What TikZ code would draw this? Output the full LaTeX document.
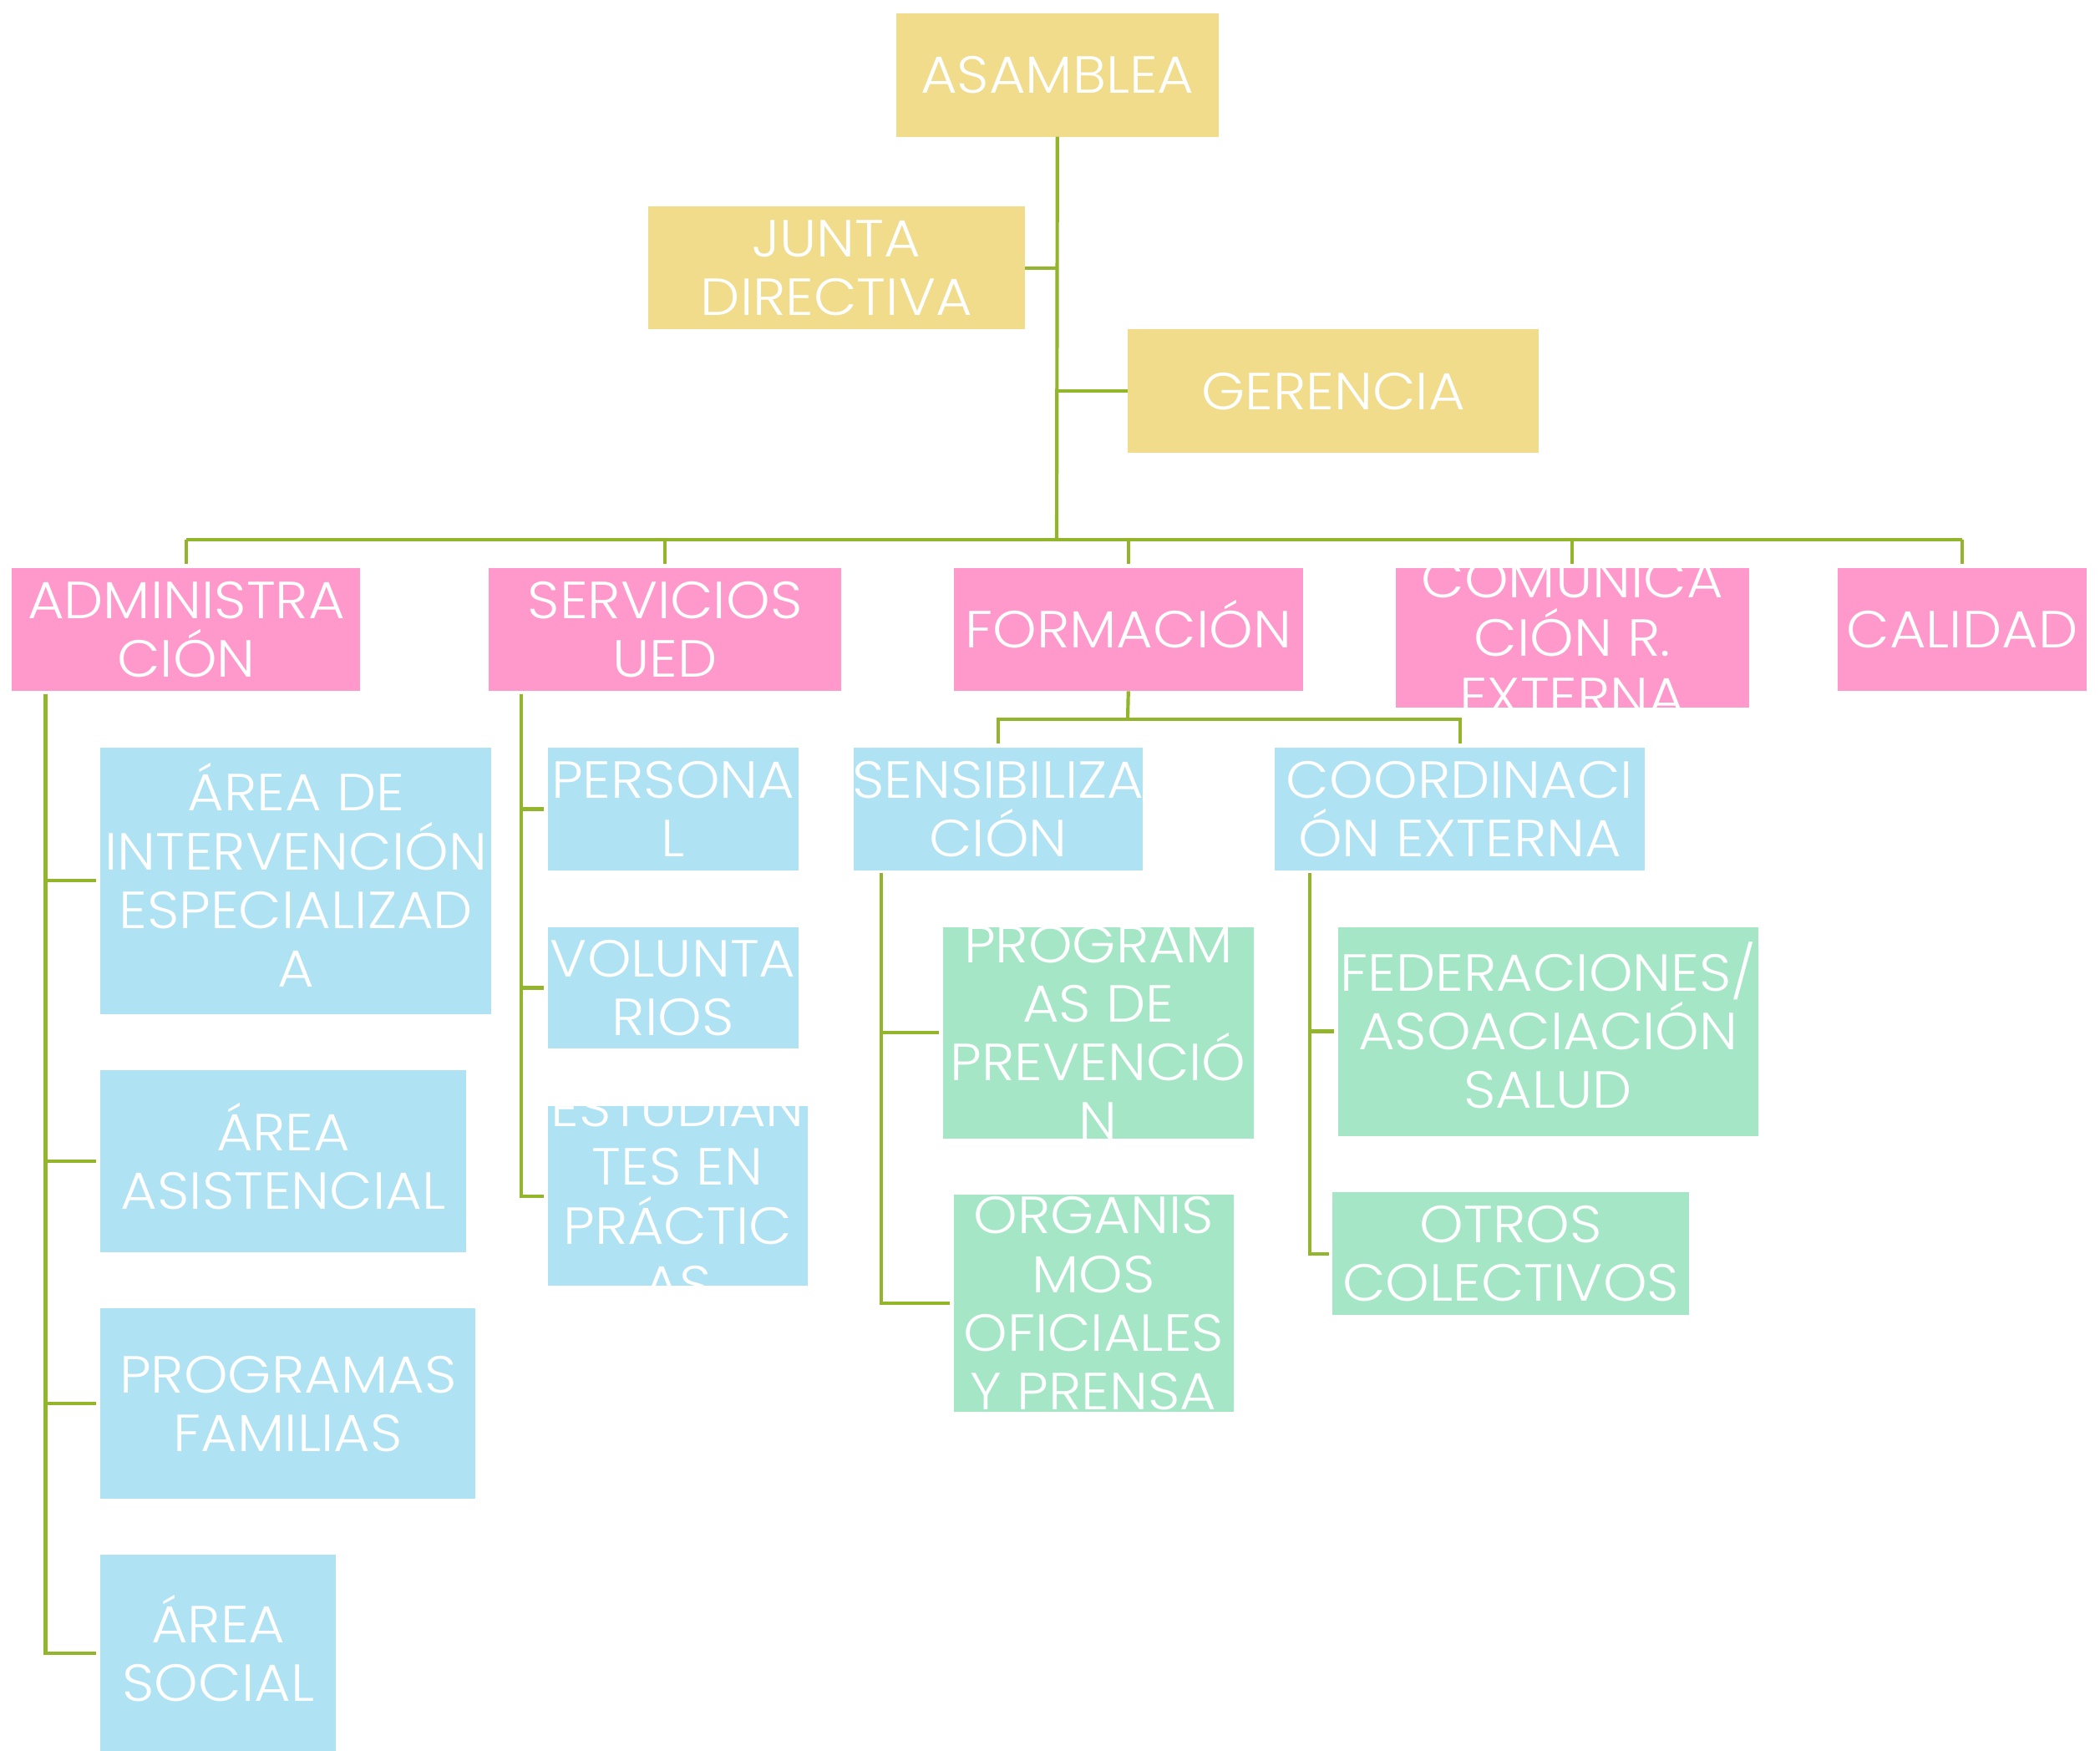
\documentclass[tikz,border=0pt]{standalone}
\usepackage{fontspec}
\setmainfont{Poppins}[UprightFont=* Light, FakeStretch=1.07]
\definecolor{cyell}{HTML}{F0DC8B}
\definecolor{cpink}{HTML}{FF99CC}
\definecolor{cblue}{HTML}{AFE2F3}
\definecolor{cgreen}{HTML}{A5E6C7}
\definecolor{cline}{HTML}{93B52C}
\tikzset{
  obox/.style={rectangle, draw=none, inner sep=0pt, outer sep=0pt},
  otext/.style={text=white, align=center, inner sep=0pt, outer sep=0pt,
    font=\fontsize{19.5}{21.9}\selectfont, text depth=0pt},
  yel/.style={fill=cyell},
  pnk/.style={fill=cpink},
  blu/.style={fill=cblue},
  grn/.style={fill=cgreen},
  conn/.style={draw=cline, line width=1.3pt}
}
% #1 = number of text lines
\newcommand\orgbox[8][1]{%
  \node[obox, #7, minimum width={(#5-#3)*0.5pt}, minimum height={(#6-#4)*0.5pt},
    path picture={\node[otext, text height={(#1-1)*21.9pt+13.8pt}] at (path picture bounding box.center) {#8};}]
    (#2) at ({(#3+#5)/2},{(#4+#6)/2}) {};}
\begin{document}
\begin{tikzpicture}[x=0.5pt, y=-0.5pt]
\useasboundingbox (0,0) rectangle (1568,1306.7);
% top level
\orgbox{asamblea}{669}{10}{910}{102}{yel}{ASAMBLEA}
\orgbox[2]{junta}{484}{154}{765}{246}{yel}{JUNTA\\DIRECTIVA}
\orgbox{gerencia}{842}{246}{1149}{338}{yel}{GERENCIA}
% departments
\orgbox[2]{admin}{9}{424}{269}{516}{pnk}{ADMINISTRA\\CIÓN}
\orgbox[2]{serv}{365}{424}{628}{516}{pnk}{SERVICIOS\\UED}
\orgbox{form}{712}{424}{973}{516}{pnk}{FORMACIÓN}
\orgbox[3]{comun}{1042}{424}{1306}{528}{pnk}{COMUNICA\\CIÓN R.\\EXTERNA}
\orgbox{calidad}{1372}{424}{1558}{516}{pnk}{CALIDAD}
% administracion children
\orgbox[4]{aie}{75}{558}{367}{757}{blu}{ÁREA DE\\INTERVENCIÓN\\ESPECIALIZAD\\A}
\orgbox[2]{aa}{75}{799}{348}{935}{blu}{ÁREA\\ASISTENCIAL}
\orgbox[2]{pf}{75}{977}{355}{1119}{blu}{PROGRAMAS\\FAMILIAS}
\orgbox[2]{as}{75}{1161}{251}{1308}{blu}{ÁREA\\SOCIAL}
% servicios children
\orgbox[2]{personal}{409}{558}{596}{650}{blu}{PERSONA\\L}
\orgbox[2]{volunt}{409}{692}{596}{783}{blu}{VOLUNTA\\RIOS}
\orgbox[4]{estud}{409}{826}{603}{960}{blu}{ESTUDIAN\\TES EN\\PRÁCTIC\\AS}
% formacion children
\orgbox[2]{sens}{637.5}{558}{853}{650}{blu}{SENSIBILIZA\\CIÓN}
\orgbox[2]{coord}{952}{558}{1228}{650}{blu}{COORDINACI\\ÓN EXTERNA}
\orgbox[4]{prev}{704}{692}{936}{850}{grn}{PROGRAM\\AS DE\\PREVENCIÓ\\N}
\orgbox[4]{org}{712}{892}{921}{1054}{grn}{ORGANIS\\MOS\\OFICIALES\\Y PRENSA}
\orgbox[3]{fed}{999}{692}{1313}{848}{grn}{FEDERACIONES/\\ASOACIACIÓN\\SALUD}
\orgbox[2]{otros}{995}{890}{1261}{982}{grn}{OTROS\\COLECTIVOS}
% connectors
\coordinate (bus) at (789,403);
\draw[conn] (asamblea.south) -- (bus);
\draw[conn] (junta.east) -- (junta.east -| bus);
\draw[conn] (gerencia.west) -- (gerencia.west -| bus);
\draw[conn] (admin.north |- bus) -- (calidad.north |- bus);
\foreach \n in {admin,serv,form,comun,calidad}
  \draw[conn] (\n.north |- bus) -- ([yshift=1.5pt]\n.north);
\coordinate (aT) at (34,518);
\foreach \c in {aie,aa,pf,as}
  \draw[conn] (aT) |- ([xshift=-1.5pt]\c.west);
\coordinate (sT) at (389.4,518);
\foreach \c in {personal,volunt,estud}
  \draw[conn] (sT) |- ([xshift=-1.5pt]\c.west);
\coordinate (fbus) at (842,537);
\draw[conn] (form.south) -- (fbus);
\draw[conn] ([yshift=1.5pt]sens.north) |- (fbus) -| ([yshift=1.5pt]coord.north);
\coordinate (seT) at (658,652);
\foreach \c in {prev,org}
  \draw[conn] (seT) |- ([xshift=-1.5pt]\c.west);
\coordinate (coT) at (978,652);
\foreach \c in {fed,otros}
  \draw[conn] (coT) |- ([xshift=-1.5pt]\c.west);
\end{tikzpicture}
\end{document}
